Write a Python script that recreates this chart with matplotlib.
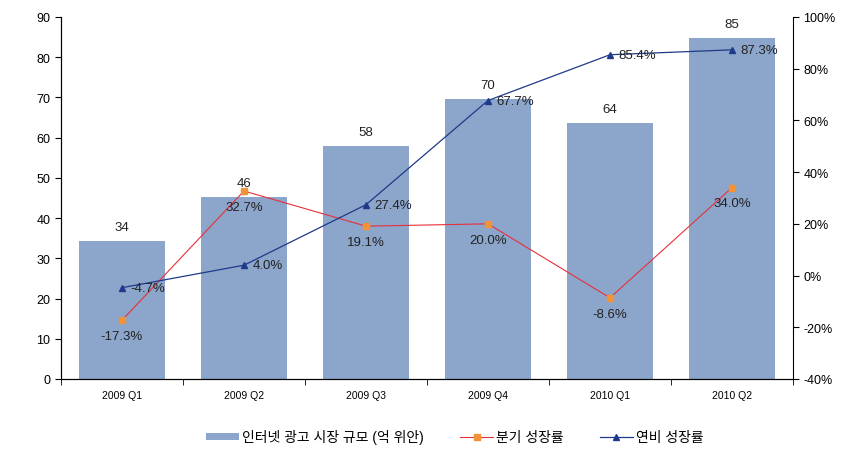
import matplotlib
matplotlib.use("Agg")
import matplotlib.pyplot as plt
import numpy as np

plt.rcParams['font.family'] = ['Liberation Sans', 'Noto Sans CJK KR', 'DejaVu Sans']

# Data
quarters = ['2009 Q1', '2009 Q2', '2009 Q3', '2009 Q4', '2010 Q1', '2010 Q2']
market_size = [34.2, 45.2, 57.8, 69.6, 63.6, 84.8]
size_labels = ['34', '46', '58', '70', '64', '85']
qoq_growth = [-17.3, 32.7, 19.1, 20.0, -8.6, 34.0]
yoy_growth = [-4.7, 4.0, 27.4, 67.7, 85.4, 87.3]

bar_name = '인터넷 광고 시장 규모 (억 위안)'
qoq_name = '분기 성장률'
yoy_name = '연비 성장률'

bar_color = '#8BA5CB'
qoq_line = '#E8303A'
qoq_marker = '#F39237'
yoy_color = '#1F3A8A'

fig = plt.figure(figsize=(8.66, 4.77), dpi=100)
ax = fig.add_axes([0.0704, 0.2034, 0.8453, 0.7589])
x = np.arange(len(quarters))

bars = ax.bar(x, market_size, width=0.7, color=bar_color, label=bar_name, zorder=1)
for xi, v, lab in zip(x, market_size, size_labels):
    ax.text(xi, v + 2, lab, ha='center', va='bottom', fontsize=9.5, color='#222222')

ax.set_xlim(-0.5, len(quarters) - 0.5)
ax.set_ylim(0, 90)
ax.set_yticks(range(0, 91, 10))
ax.set_xticks(x)
ax.set_xticklabels(quarters, fontsize=7.5)
ax.set_xticks(np.arange(-0.5, len(quarters), 1), minor=True)
ax.tick_params(axis='x', which='major', length=0, pad=8)
ax.tick_params(axis='x', which='minor', length=4, direction='out')
ax.tick_params(axis='y', labelsize=9, length=4, direction='out')
ax.spines['top'].set_visible(False)
ax.spines['right'].set_visible(False)

ax2 = ax.twinx()
ax2.set_ylim(-40, 100)
ax2.set_yticks(range(-40, 101, 20))
ax2.set_yticklabels([f'{v}%' for v in range(-40, 101, 20)])
ax2.tick_params(axis='y', labelsize=9, length=4, direction='out')
ax2.spines['top'].set_visible(False)

l1, = ax2.plot(x, qoq_growth, color=qoq_line, lw=0.8, marker='s', ms=4,
               mfc=qoq_marker, mec=qoq_marker, label=qoq_name)
l2, = ax2.plot(x, yoy_growth, color=yoy_color, lw=0.9, marker='^', ms=4,
               mfc=yoy_color, mec=yoy_color, label=yoy_name)

for xi, v in zip(x, qoq_growth):
    ax2.annotate(f'{v:.1f}%', (xi, v), xytext=(0, -7), textcoords='offset points',
                 ha='center', va='top', fontsize=9.5, color='#222222')
for xi, v in zip(x, yoy_growth):
    ax2.annotate(f'{v:.1f}%', (xi, v), xytext=(6, 0), textcoords='offset points',
                 ha='left', va='center', fontsize=9.5, color='#222222')

fig.legend(handles=[bars, l1, l2], loc='center', bbox_to_anchor=(0.525, 0.082),
           ncol=3, frameon=False, fontsize=10, handlelength=2.4,
           handleheight=0.4, columnspacing=2.6, handletextpad=0.2)

fig.savefig('out.png', dpi=100)
